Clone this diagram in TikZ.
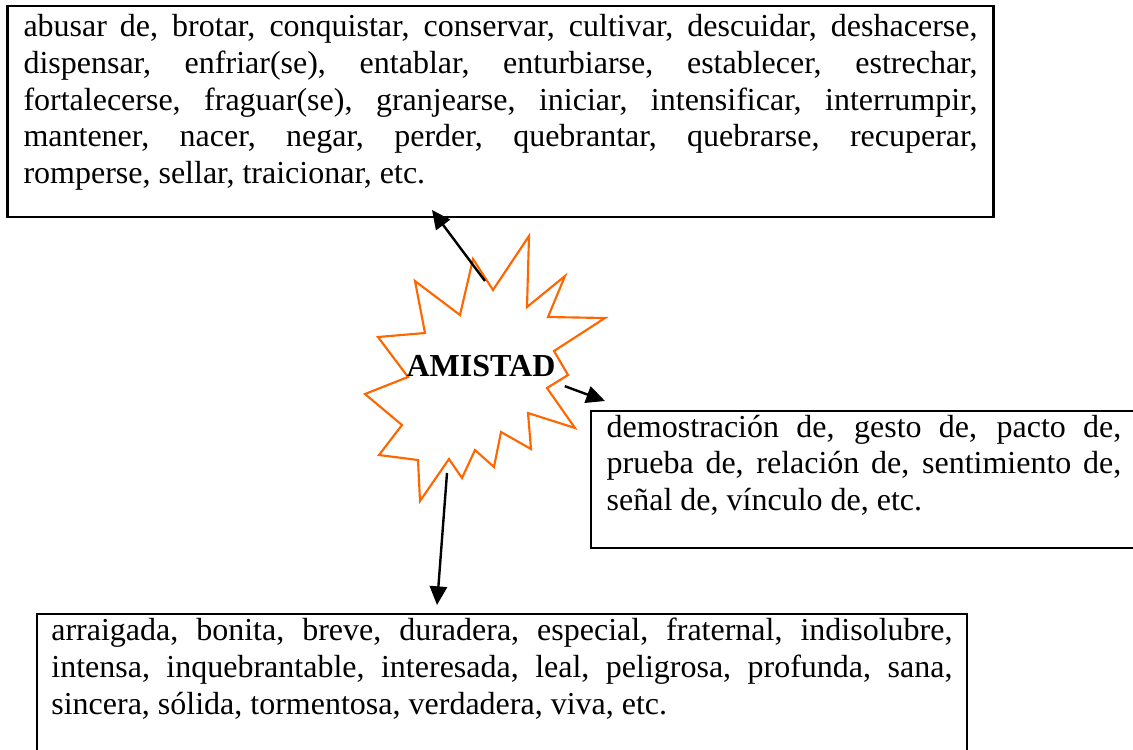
\documentclass[tikz,border=0pt]{standalone}
\usepackage{fontspec}
\setmainfont{Liberation Serif}
\usetikzlibrary{arrows.meta}
\definecolor{orangeetoile}{RGB}{255,102,0}
\begin{document}
\begin{tikzpicture}[x=0.375pt,y=-0.375pt]
% Styles
\tikzstyle{cadre}=[draw,line width=0.8pt,anchor=north west,outer sep=0pt,inner ysep=0pt,inner xsep=6pt,align=justify,font=\fontsize{12}{13.76}\selectfont]
\tikzstyle{fleche}=[-{Triangle[length=7pt,width=6.5pt]},line width=0.9pt]
\tikzstyle{etoile}=[draw=orangeetoile,line width=0.8pt,line join=miter]
% Cadre de l'image
\useasboundingbox (0,0) rectangle (1133,749);
\clip (0,0) rectangle (1133,749);
% Etoile
\draw[etoile] (529,236) -- (527,307) -- (565,276) -- (548,317) -- (605,318)
  -- (554,351) -- (568,375) -- (547,388) -- (575,428) -- (528,413)
  -- (531,449) -- (501,432) -- (494,467) -- (475,450) -- (462,478)
  -- (449,459) -- (420,501) -- (418,460) -- (379,455) -- (402,425)
  -- (365,394) -- (408,377) -- (378,337) -- (425,333) -- (415,281)
  -- (460,315) -- (473,259) -- (493,290) -- cycle;
% Mot central
\node[font=\bfseries\fontsize{12}{13.76}\selectfont] (amistad) at (481,366) {AMISTAD};
% Cadres
\node[cadre,text width=357.75pt,text height=11.6pt,text depth=67.7pt] (verbes) at (7.5,5.7)
  {abusar de, brotar, conquistar, conservar, cultivar, descuidar, deshacerse,\linebreak
   dispensar, enfriar(se), entablar, enturbiarse, establecer, estrechar,\linebreak
   fortalecerse, fraguar(se), granjearse, iniciar, intensificar, interrumpir,\linebreak
   mantener, nacer, negar, perder, quebrantar, quebrarse, recuperar,\linebreak
   romperse, sellar, traicionar, etc.};
\node[cadre,text width=193pt,text height=9.75pt,text depth=41.6pt] (noms) at (590.7,411)
  {demostración de, gesto de, pacto de,\linebreak
   prueba de, relación de, sentimiento de,\linebreak
   señal de, vínculo de, etc.};
\node[cadre,inner xsep=5.5pt,text width=337.9pt,text height=9.9pt,text depth=60pt] (adjectifs) at (36.7,614.3)
  {arraigada, bonita, breve, duradera, especial, fraternal, indisolubre,\linebreak
   intensa, inquebrantable, interesada, leal, peligrosa, profunda, sana,\linebreak
   sincera, sólida, tormentosa, verdadera, viva, etc.};
% Flèches
\coordinate (depverbes) at (485,281);
\coordinate (arrverbes) at (432,210);
\coordinate (arrnoms) at (605,401);
\coordinate (depadj) at (447,473);
\coordinate (arradj) at (437,605);
\draw[fleche] (depverbes) -- (arrverbes);
\draw[fleche] (amistad.south east) -- (arrnoms);
\draw[fleche] (depadj) -- (arradj);
\end{tikzpicture}
\end{document}
